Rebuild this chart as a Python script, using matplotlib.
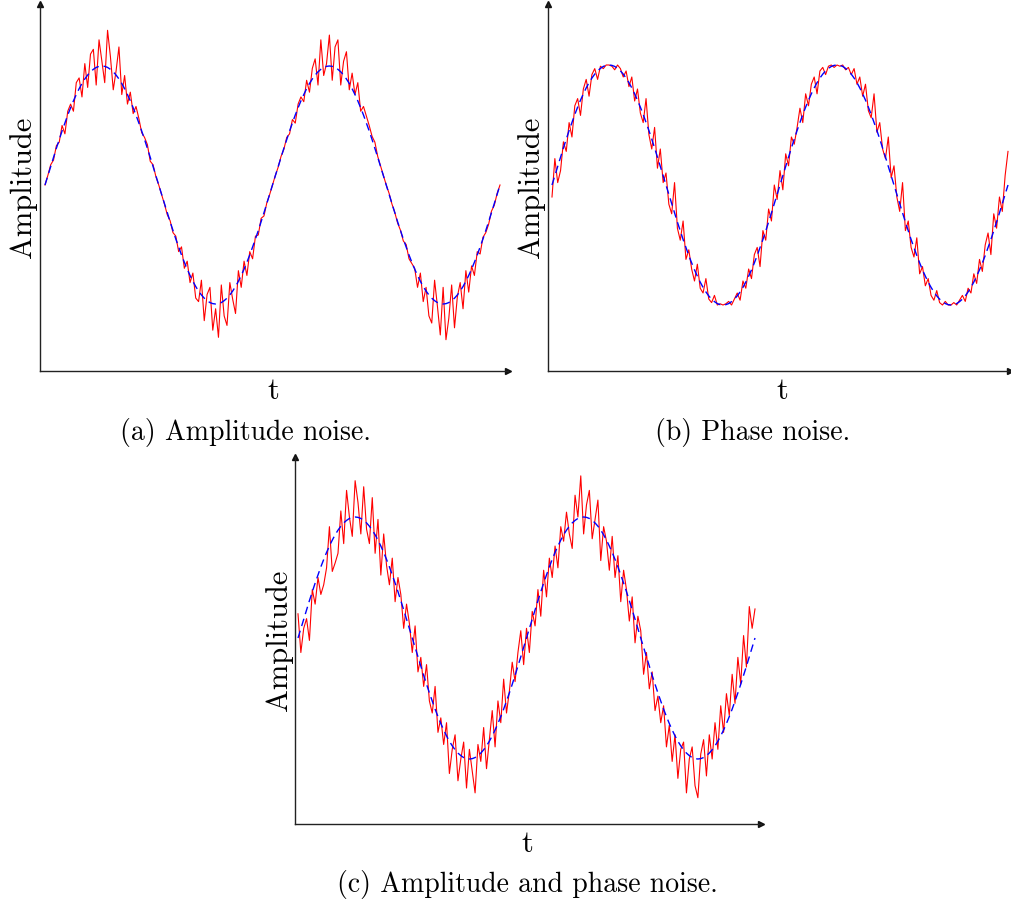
import numpy as np
import matplotlib
matplotlib.use("Agg")
import matplotlib.pyplot as plt

plt.rcParams['font.family'] = 'cmr10'
plt.rcParams['axes.formatter.use_mathtext'] = True

clean_period = [0.000, 0.078, 0.156, 0.233, 0.309, 0.383, 0.454, 0.522, 0.588, 0.649,
                0.707, 0.760, 0.809, 0.853, 0.891, 0.924, 0.951, 0.972, 0.988, 0.997,
                1.000, 0.997, 0.988, 0.972, 0.951, 0.924, 0.891, 0.853, 0.809, 0.760,
                0.707, 0.649, 0.588, 0.522, 0.454, 0.383, 0.309, 0.233, 0.156, 0.078,
                0.000, -0.078, -0.156, -0.233, -0.309, -0.383, -0.454, -0.522, -0.588, -0.649,
                -0.707, -0.760, -0.809, -0.853, -0.891, -0.924, -0.951, -0.972, -0.988, -0.997,
                -1.000, -0.997, -0.988, -0.972, -0.951, -0.924, -0.891, -0.853, -0.809, -0.760,
                -0.707, -0.649, -0.588, -0.522, -0.454, -0.383, -0.309, -0.233, -0.156, -0.078,
                0.000]
clean = clean_period + clean_period[1:]

# noisy signals (red)
amp_noise = [0.00, 0.08, 0.17, 0.21, 0.33, 0.36, 0.50, 0.43, 0.62, 0.68,
             0.62, 0.86, 0.90, 0.74, 1.02, 0.82, 1.10, 1.14, 0.84, 1.22,
             1.04, 0.86, 1.30, 1.08, 0.80, 0.96, 1.16, 0.76, 0.92, 0.68,
             0.78, 0.60, 0.66, 0.56, 0.44, 0.40, 0.34, 0.20, 0.17, 0.07,
             0.00, -0.08, -0.16, -0.25, -0.30, -0.40, -0.43, -0.56, -0.52, -0.70,
             -0.64, -0.82, -0.74, -0.95, -0.98, -0.80, -1.14, -0.92, -0.86, -1.22,
             -1.04, -1.28, -0.84, -1.10, -1.18, -0.82, -0.96, -1.08, -0.72, -0.86,
             -0.64, -0.76, -0.56, -0.62, -0.43, -0.42, -0.28, -0.26, -0.15, -0.08,
             0.00,
             0.08, 0.15, 0.24, 0.30, 0.40, 0.43, 0.55, 0.52, 0.68, 0.74,
             0.70, 0.88, 0.78, 0.98, 1.06, 0.84, 1.22, 0.92, 1.02, 1.26,
             0.88, 1.16, 1.22, 0.84, 1.04, 1.12, 0.80, 0.94, 0.76, 0.86,
             0.62, 0.66, 0.58, 0.50, 0.41, 0.36, 0.24, 0.16, 0.08, 0.00,
             -0.07, -0.16, -0.23, -0.32, -0.38, -0.47, -0.50, -0.62, -0.66, -0.70,
             -0.86, -0.74, -0.98, -0.86, -1.10, -1.16, -0.80, -1.02, -1.26, -0.86,
             -1.30, -1.12, -0.84, -1.20, -0.94, -0.82, -1.04, -0.72, -0.90, -0.68,
             -0.76, -0.56, -0.58, -0.44, -0.40, -0.33, -0.22, -0.17, -0.07, 0.00]

phase_noise = [-0.10, 0.22, 0.02, 0.12, 0.36, 0.28, 0.52, 0.40, 0.66, 0.72,
               0.58, 0.80, 0.88, 0.74, 0.92, 0.97, 0.88, 0.99, 0.97, 1.00,
               1.00, 0.99, 0.96, 1.00, 0.97, 0.90, 0.95, 0.82, 0.90, 0.70,
               0.80, 0.60, 0.52, 0.72, 0.42, 0.30, 0.48, 0.14, 0.30, 0.02,
               0.10, -0.16, -0.24, 0.02, -0.36, -0.46, -0.30, -0.62, -0.54, -0.70,
               -0.80, -0.66, -0.86, -0.90, -0.78, -0.95, -0.98, -0.92, -1.00, -0.99,
               -1.00, -0.99, -0.97, -1.00, -0.95, -0.90, -0.96, -0.80, -0.86, -0.70,
               -0.78, -0.58, -0.52, -0.68, -0.38, -0.46, -0.20, -0.30, 0.00, -0.12,
               0.12, -0.04, 0.26, 0.16, 0.40, 0.34, 0.48, 0.64, 0.52, 0.76,
               0.66, 0.84, 0.90, 0.76, 0.95, 0.98, 0.92, 0.99, 1.00, 0.98,
               1.00, 0.99, 1.00, 0.96, 0.98, 0.92, 0.97, 0.84, 0.90, 0.74,
               0.84, 0.62, 0.56, 0.76, 0.44, 0.52, 0.30, 0.22, 0.40, 0.06,
               0.16, -0.10, -0.22, 0.02, -0.38, -0.30, -0.52, -0.60, -0.44, -0.74,
               -0.68, -0.84, -0.78, -0.92, -0.96, -0.88, -0.98, -1.00, -0.97, -1.00,
               -1.00, -0.98, -1.00, -0.96, -0.92, -0.97, -0.86, -0.90, -0.74, -0.82,
               -0.62, -0.72, -0.50, -0.40, -0.58, -0.24, -0.36, -0.10, -0.22, 0.08,
               0.28]

both_noise = [0.20, -0.12, 0.08, 0.16, -0.02, 0.40, 0.28, 0.50, 0.36, 0.44,
              0.58, 0.92, 0.55, 0.62, 0.70, 1.05, 0.78, 1.22, 1.00, 0.84,
              1.30, 1.12, 0.86, 1.25, 0.90, 0.78, 1.16, 0.70, 0.98, 0.52,
              0.86, 0.60, 0.44, 0.66, 0.30, 0.50, 0.36, 0.08, 0.28, 0.12,
              -0.12, 0.10, -0.28, -0.16, -0.40, -0.22, -0.52, -0.62, -0.40, -0.78,
              -0.66, -0.88, -0.70, -1.12, -0.92, -0.80, -1.18, -1.00, -0.86, -1.24,
              -0.92, -1.10, -1.28, -0.88, -1.02, -0.74, -1.08, -0.84, -0.60, -0.90,
              -0.52, -0.70, -0.34, -0.62, -0.44, -0.20, -0.36, -0.12, 0.06, -0.22,
              0.08, -0.12, 0.22, 0.10, 0.40, 0.18, 0.56, 0.34, 0.66, 0.50,
              0.76, 0.58, 0.92, 0.80, 1.04, 0.86, 0.74, 1.18, 1.00, 1.34,
              0.86, 1.10, 1.22, 0.82, 0.98, 1.14, 0.64, 0.92, 0.80, 0.56,
              0.84, 0.50, 0.68, 0.30, 0.56, 0.40, 0.14, 0.34, -0.04, 0.18,
              0.06, -0.30, -0.12, -0.42, -0.28, -0.60, -0.48, -0.70, -0.56, -0.90,
              -0.72, -1.02, -0.80, -1.16, -0.92, -0.86, -1.28, -1.00, -0.90, -1.22,
              -1.32, -0.96, -0.84, -1.14, -0.80, -1.00, -0.70, -0.92, -0.56, -0.78,
              -0.46, -0.64, -0.30, -0.54, -0.16, -0.38, 0.02, -0.24, 0.26, 0.08,
              0.24]

captions = ["(a) Amplitude noise.", "(b) Phase noise.", "(c) Amplitude and phase noise."]

W, H = 1011, 904
fig = plt.figure(figsize=(W / 100, H / 100), dpi=100)

# pixel layout: axes box (left, right, top, bottom), curve x-span, curve centre/amp,
# label positions
panels = [
    dict(box=(40, 508, 5, 372), span=(45, 500), cy=186, amp=119,
         ylab=(23, 187), tlab=(273, 391), cap=(245, 433), red=amp_noise),
    dict(box=(548, 1010, 5, 372), span=(552, 1008), cy=186, amp=120,
         ylab=(531, 187), tlab=(782, 391), cap=(753, 433), red=phase_noise),
    dict(box=(295, 761, 458, 825), span=(298, 755), cy=639, amp=121,
         ylab=(279, 640), tlab=(527, 844), cap=(527, 885), red=both_noise),
]

for p, cap in zip(panels, captions):
    l, r, t, b = p['box']
    ax = fig.add_axes([l / W, 1 - b / H, (r - l) / W, (b - t) / H])
    x0, x1 = p['span']
    s = 4 * np.pi / (x1 - x0)
    ax.set_xlim(-(x0 - l) * s, 4 * np.pi + (r - x1) * s)
    ax.set_ylim((p['cy'] - b) / p['amp'], (p['cy'] - t) / p['amp'])

    tr = np.linspace(0, 4 * np.pi, len(p['red']))
    tc = np.linspace(0, 4 * np.pi, len(clean))
    ax.plot(tr, p['red'], color='#ff0000', lw=0.8, zorder=2)
    ax.plot(tc, clean, color='#0000ff', lw=1.0, dashes=(5.5, 3.5), zorder=3)

    for side in ['top', 'right']:
        ax.spines[side].set_visible(False)
    for side in ['left', 'bottom']:
        ax.spines[side].set_color('#222222')
        ax.spines[side].set_linewidth(1.0)
    ax.set_xticks([])
    ax.set_yticks([])
    ax.plot(1, 0, '>', color='#111111', ms=5, transform=ax.transAxes, clip_on=False)
    ax.plot(0, 1, '^', color='#111111', ms=5, transform=ax.transAxes, clip_on=False)

    fig.text(p['ylab'][0] / W, 1 - p['ylab'][1] / H, 'Amplitude', rotation=90,
             ha='center', va='center', fontsize=22)
    fig.text(p['tlab'][0] / W, 1 - p['tlab'][1] / H, 't',
             ha='center', va='center', fontsize=22)
    fig.text(p['cap'][0] / W, 1 - p['cap'][1] / H, cap,
             ha='center', va='center', fontsize=20)

fig.savefig('out.png', dpi=100)
